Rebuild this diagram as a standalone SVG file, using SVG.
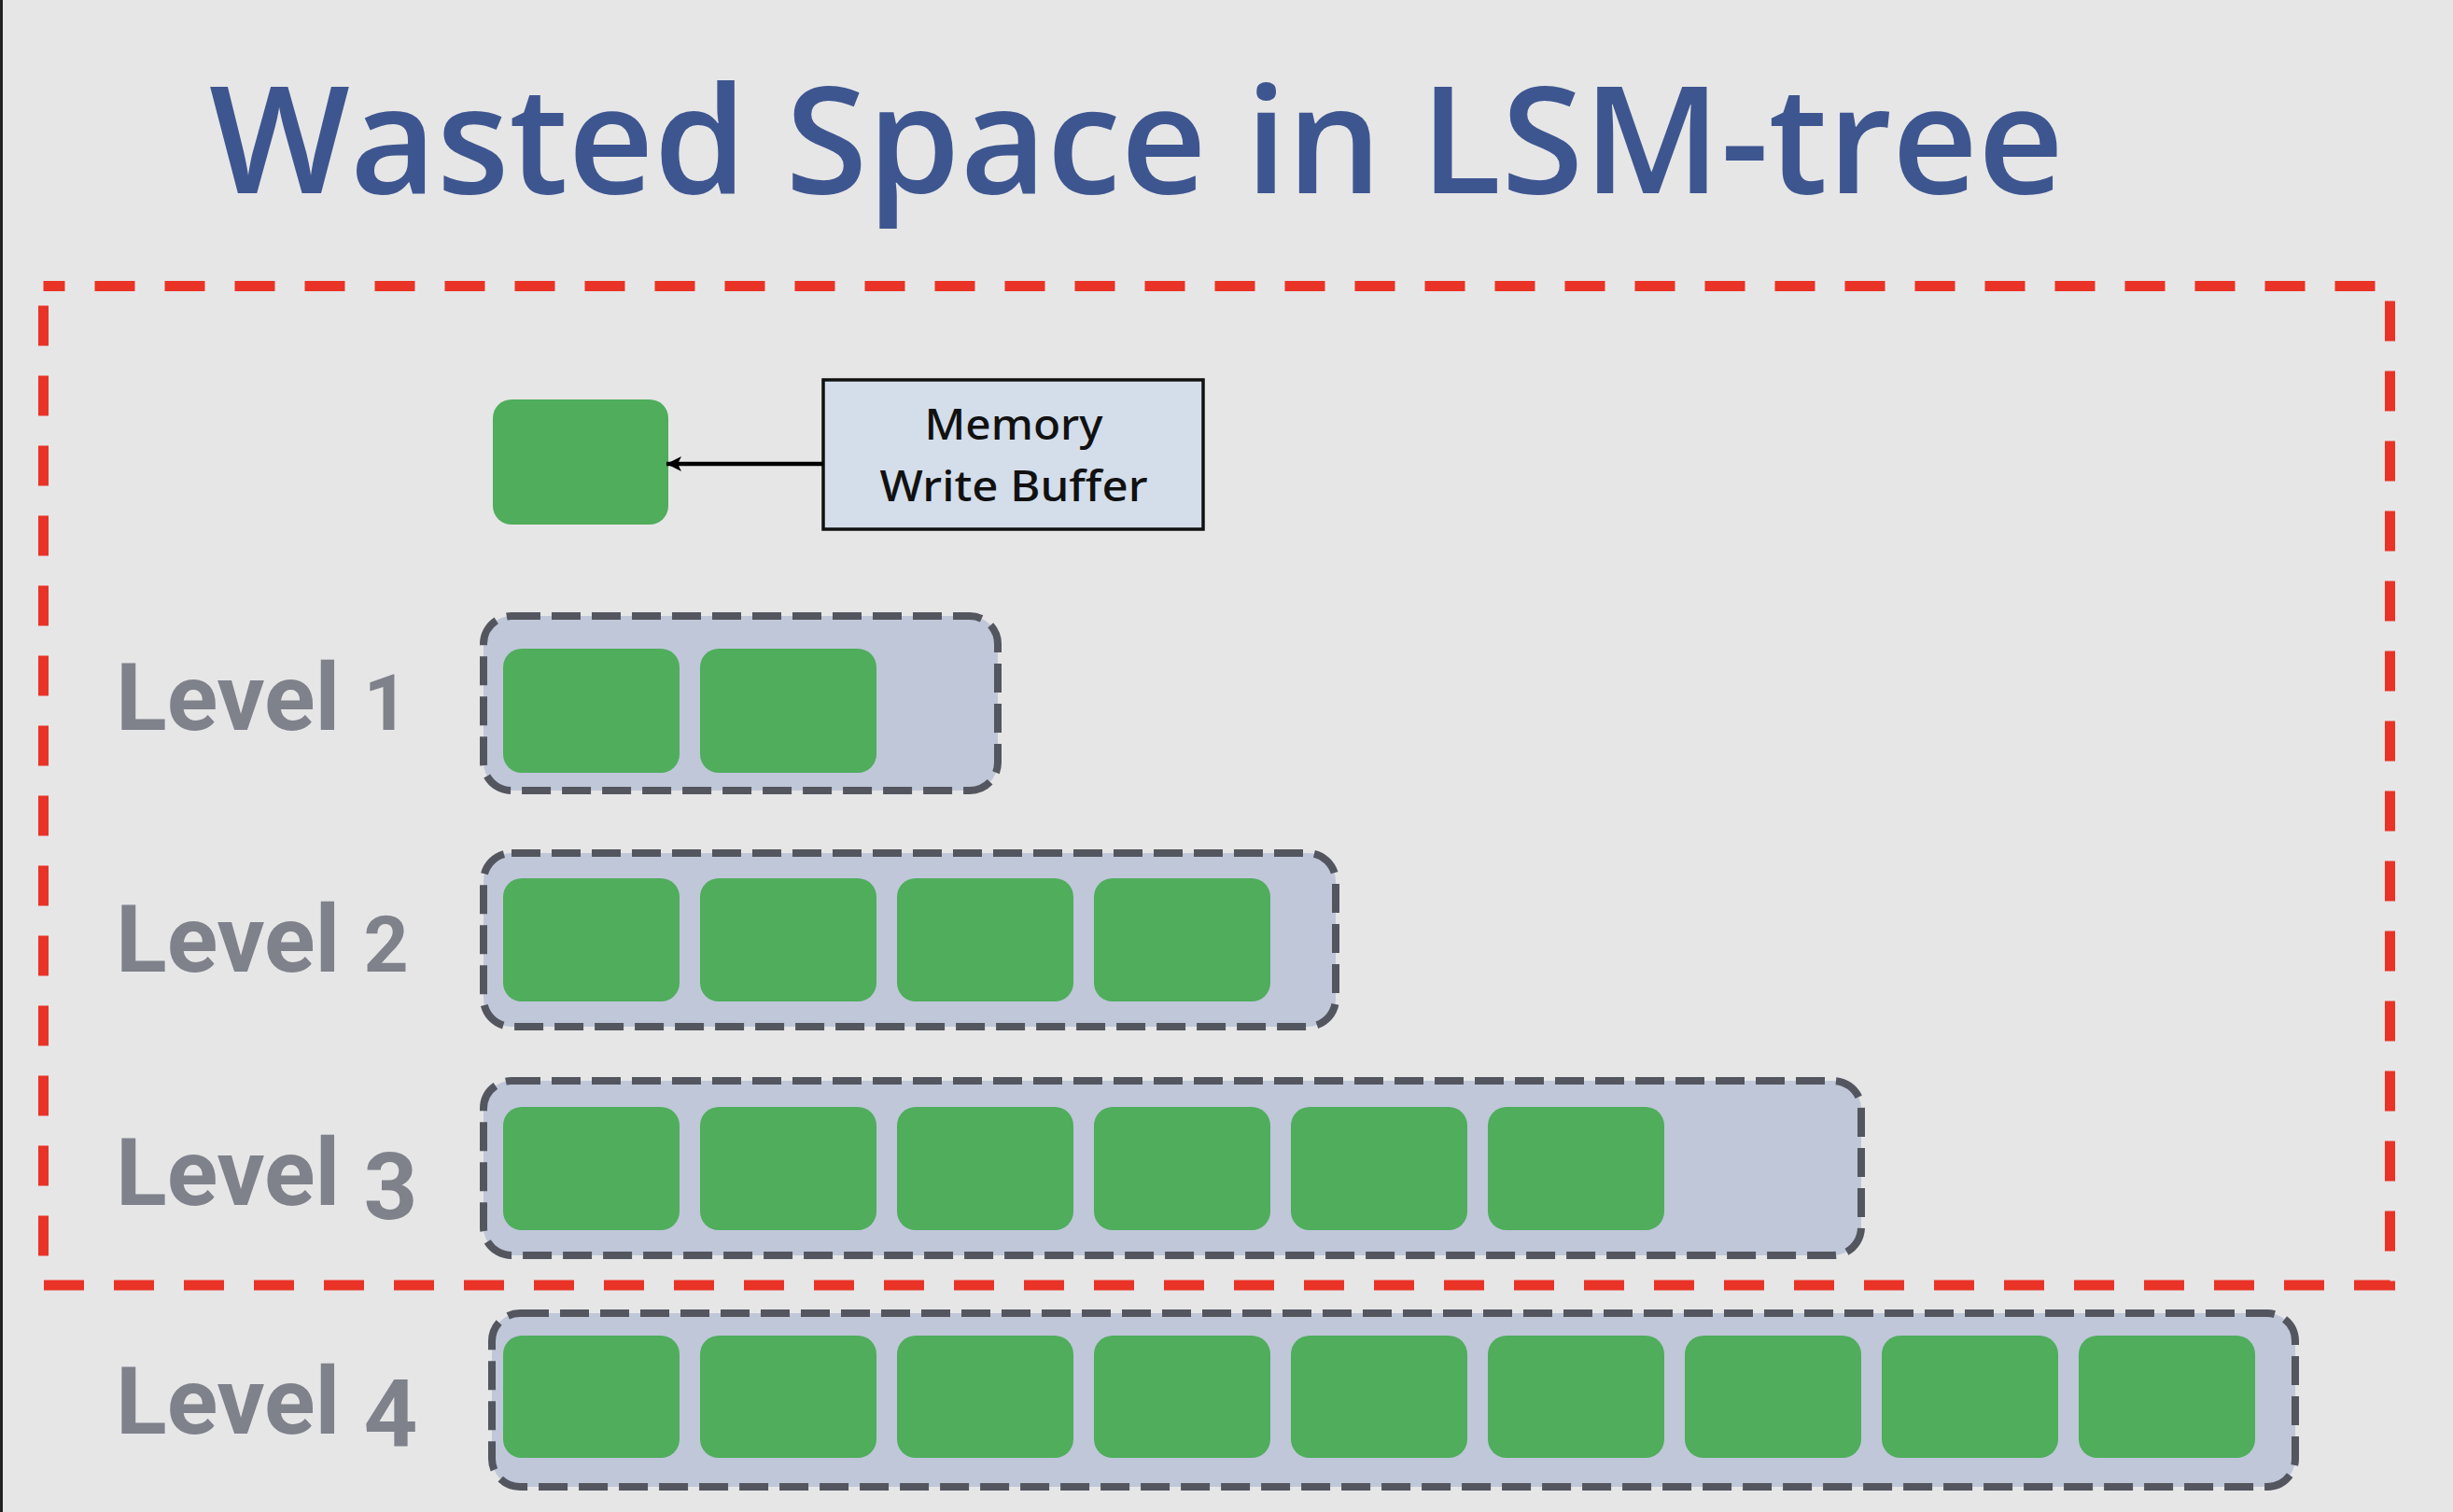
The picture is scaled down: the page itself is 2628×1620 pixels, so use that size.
<svg xmlns="http://www.w3.org/2000/svg" width="2628" height="1620" viewBox="0 0 2628 1620">
<defs>
<style>
.title{font-family:"Open Sans","Noto Sans",sans-serif;font-weight:650;font-size:160px;fill:#3e5690}
.lvl{font-family:Roboto,"Noto Sans",sans-serif;font-weight:700;font-size:101px;fill:#7f818b}
.mem{font-family:"Noto Sans","Open Sans",sans-serif;font-weight:500;font-size:45px;fill:#111}
.cont{fill:#bfc7d9;stroke:#54565f;stroke-width:8;stroke-dasharray:31 12}
.blk{fill:#4fad5c}
.red{fill:none;stroke:#e93326;stroke-width:11;stroke-dasharray:43 32;stroke-dashoffset:20}
</style>
<marker id="ah" markerUnits="userSpaceOnUse" markerWidth="18" markerHeight="18" viewBox="0 0 18 16" refX="16" refY="8" orient="auto">
<path d="M0,0 L16,8 L0,16 L4,8 Z" fill="#000"/>
</marker>
</defs>
<rect x="0" y="0" width="2628" height="1620" fill="#e6e6e6"/>
<rect x="0" y="0" width="3" height="1620" fill="#222"/>

<text class="title" x="224" y="207" textLength="1987" lengthAdjust="spacingAndGlyphs">Wasted Space in LSM-tree</text>

<rect class="red" x="46.5" y="306.5" width="2514" height="1070.5"/>

<g id="buffer-block"><rect class="blk" x="528" y="428" width="188" height="134" rx="20"/></g>

<g id="memory-write-buffer">
<rect x="882" y="407" width="407" height="160" fill="#d3deea" stroke="#111" stroke-width="3.5"/>
<text class="mem" x="1086" y="471" text-anchor="middle" textLength="191" lengthAdjust="spacingAndGlyphs">Memory</text>
<text class="mem" x="1086" y="537" text-anchor="middle" textLength="287" lengthAdjust="spacingAndGlyphs">Write Buffer</text>
</g>

<g id="connectors">
<line x1="882" y1="497" x2="714" y2="497" stroke="#000" stroke-width="4.5" marker-end="url(#ah)"/>
</g>

<g id="level1">
<text class="lvl" x="124" y="782">Level <tspan font-size="84">1</tspan></text>
<rect class="cont" x="518" y="660" width="551" height="187" rx="30"/>
<rect class="blk" x="539" y="695" width="189" height="133" rx="20"/>
<rect class="blk" x="750" y="695" width="189" height="133" rx="20"/>
</g>

<g id="level2">
<text class="lvl" x="124" y="1041">Level <tspan font-size="84">2</tspan></text>
<rect class="cont" x="518" y="914" width="913" height="186" rx="30"/>
<rect class="blk" x="539" y="941" width="189" height="132" rx="20"/>
<rect class="blk" x="750" y="941" width="189" height="132" rx="20"/>
<rect class="blk" x="961" y="941" width="189" height="132" rx="20"/>
<rect class="blk" x="1172" y="941" width="189" height="132" rx="20"/>
</g>

<g id="level3">
<text class="lvl" x="124" y="1291">Level <tspan dy="15">3</tspan></text>
<rect class="cont" x="518" y="1158" width="1476" height="187" rx="30"/>
<rect class="blk" x="539" y="1186" width="189" height="132" rx="20"/>
<rect class="blk" x="750" y="1186" width="189" height="132" rx="20"/>
<rect class="blk" x="961" y="1186" width="189" height="132" rx="20"/>
<rect class="blk" x="1172" y="1186" width="189" height="132" rx="20"/>
<rect class="blk" x="1383" y="1186" width="189" height="132" rx="20"/>
<rect class="blk" x="1594" y="1186" width="189" height="132" rx="20"/>
</g>

<g id="level4">
<text class="lvl" x="124" y="1536">Level <tspan dy="14">4</tspan></text>
<rect class="cont" x="527" y="1407" width="1932" height="186" rx="30"/>
<rect class="blk" x="539" y="1431" width="189" height="131" rx="20"/>
<rect class="blk" x="750" y="1431" width="189" height="131" rx="20"/>
<rect class="blk" x="961" y="1431" width="189" height="131" rx="20"/>
<rect class="blk" x="1172" y="1431" width="189" height="131" rx="20"/>
<rect class="blk" x="1383" y="1431" width="189" height="131" rx="20"/>
<rect class="blk" x="1594" y="1431" width="189" height="131" rx="20"/>
<rect class="blk" x="1805" y="1431" width="189" height="131" rx="20"/>
<rect class="blk" x="2016" y="1431" width="189" height="131" rx="20"/>
<rect class="blk" x="2227" y="1431" width="189" height="131" rx="20"/>
</g>
</svg>
